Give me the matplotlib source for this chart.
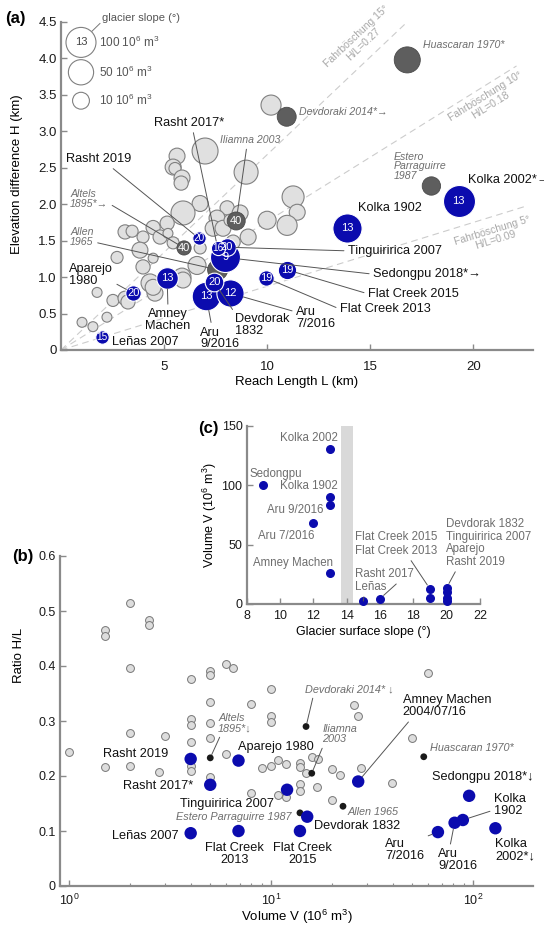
import math
import numpy as np
import matplotlib.pyplot as plt

plt.rcParams['font.family'] = ['Liberation Sans', 'DejaVu Sans']
plt.rcParams['mathtext.fontset'] = 'custom'
plt.rcParams['mathtext.rm'] = 'Liberation Sans'
plt.rcParams['mathtext.it'] = 'Liberation Sans:italic'

FIG_W, FIG_H = 544, 926
BLUE = '#0b0bae'
LIGHT = '#e0e0e0'
DARK = '#5e5e5e'
SPINE = '#8a8a8a'
GREYTXT = '#6e6e6e'

# ---------------- panel (a): reach length / elevation difference ----------------
blue_names = ['Leñas 2007', 'Aparejo 1980', 'Amney Machen', 'Rasht 2019', 'Rasht 2017',
              'Tinguiririca 2007', 'Sedongpu 2018', 'Devdorak 1832', 'Aru 9/2016', 'Aru 7/2016',
              'Flat Creek 2013', 'Flat Creek 2015', 'Kolka 1902', 'Kolka 2002']
blue_L = [2.0, 3.5, 5.15, 6.7, 7.6, 8.05, 7.96, 7.43, 7.04, 8.2, 9.95, 10.97, 13.9, 19.3]
blue_H = [0.18, 0.78, 0.99, 1.53, 1.40, 1.41, 1.27, 0.93, 0.74, 0.78, 0.99, 1.10, 1.68, 2.04]
blue_V = [4, 7, 27, 4, 5, 12, 100, 15, 83, 68, 7, 14, 90, 130]
blue_slope = [15, 20, 13, 20, 16, 20, 9, 20, 13, 12, 19, 19, 13, 13]

hist_names = ['Huascaran 1970', 'Devdoraki 2014', 'Estero Parraguirre 1987', 'Iliamna 2003',
              'Altels 1895', 'Allen 1965']
hist_L = [16.8, 10.95, 17.97, 8.5, 5.97, 7.6]
hist_H = [3.98, 3.2, 2.25, 1.77, 1.40, 1.10]
hist_V = [57, 16, 14, 13, 5, 20]
hist_slope = ['', '', '', '40', '40', '']

grey_L = [10.19, 6.99, 5.63, 5.44, 5.53, 8.98, 5.87, 5.83, 11.26, 11.46, 10.97, 10.0, 9.08, 6.75,
          5.92, 8.06, 7.57, 7.38, 7.86, 8.2, 5.15, 4.47, 3.98, 4.81, 5.19, 5.44, 3.83, 4.47, 6.6,
          3.98, 5.87, 4.32, 4.56, 4.47, 8.35, 8.69, 3.11, 3.45, 2.72, 6.75, 1.75, 2.52, 3.11, 3.25,
          2.23, 1.02, 1.55, 5.92]
grey_H = [3.36, 2.73, 2.66, 2.51, 2.49, 2.44, 2.36, 2.29, 2.10, 1.89, 1.71, 1.78, 1.55, 2.01,
          1.88, 1.95, 1.81, 1.67, 1.67, 1.78, 1.74, 1.68, 1.55, 1.55, 1.60, 1.47, 1.37, 1.26, 1.16,
          1.14, 1.0, 0.92, 0.78, 0.86, 1.48, 1.88, 1.62, 1.63, 1.27, 1.40, 0.79, 0.68, 0.71, 0.66,
          0.45, 0.38, 0.32, 0.96]
grey_V = [20, 56, 8, 8, 2.6, 41, 8, 5, 29, 8, 20, 13, 8, 8,
          41, 5, 8, 8, 8, 2.6, 5, 5, 2.6, 5, 1.2, 2.6, 8, 1.2, 13,
          5, 13, 13, 8, 8, 5, 8, 5, 2.6, 2.6, 2.6, 1.2, 2.6, 5, 5,
          1.2, 1.2, 1.2, 8]

legend_V = [100, 50, 10]
fahr_deg = [15, 10, 5]
fahr_text = ['Fahrböschung 15°\nH/L=0.27', 'Fahrböschung 10°\nH/L=0.18', 'Fahrböschung 5°\nH/L=0.09']

# ---------------- panel (b): volume / ratio H/L ----------------
b_grey_V = [1.0, 1.5, 1.5, 1.5, 2.0, 2.0, 2.0, 2.0, 2.5, 2.5, 2.98, 2.8,
            4.0, 4.0, 4.0, 4.0, 4.0, 4.0, 5.0, 5.0, 5.0, 5.0, 5.0, 5.0,
            6.0, 6.5, 6.0, 8.0, 8.0, 10, 10, 10, 10, 9.0, 10.8, 10.8, 11.9, 11.9,
            13.9, 13.9, 16.0, 17.1, 14.9, 20, 21.9, 27.9, 25.7, 27, 13.9, 13.9, 16.8, 20,
            59.9, 49.9, 39.6]
b_grey_ratio = [0.244, 0.465, 0.455, 0.216, 0.515, 0.397, 0.278, 0.218, 0.483, 0.475, 0.273, 0.207,
                0.376, 0.304, 0.292, 0.262, 0.218, 0.209, 0.391, 0.384, 0.335, 0.296, 0.269, 0.198,
                0.403, 0.397, 0.24, 0.331, 0.17, 0.358, 0.309, 0.298, 0.218, 0.215, 0.229, 0.165,
                0.222, 0.162, 0.224, 0.217, 0.235, 0.231, 0.205, 0.213, 0.202, 0.215, 0.329, 0.309,
                0.185, 0.173, 0.18, 0.156, 0.388, 0.27, 0.188]
b_blue_V = [4.0, 6.9, 27, 4.0, 5.0, 12.0, 95.6, 15.1, 81, 67, 6.9, 13.9, 89, 129]
b_blue_ratio = [0.096, 0.228, 0.19, 0.231, 0.184, 0.175, 0.164, 0.126, 0.115, 0.098,
                0.10, 0.10, 0.12, 0.105]
b_hist_V = [57, 14.9, 13.9, 15.9, 5.0, 22.7]
b_hist_ratio = [0.235, 0.29, 0.133, 0.205, 0.233, 0.145]

# ---------------- panel (c): glacier slope / volume ----------------
c_slope = [13, 9, 13, 13, 12, 13, 15, 16, 19, 19, 20, 20, 20, 20]
c_vol = [130, 100, 90, 83, 68, 26, 2.5, 4.5, 12.6, 5.3, 13.7, 9.8, 5.3, 2.5]


def px_rect(left, top, right, bottom):
    return [left / FIG_W, 1 - bottom / FIG_H, (right - left) / FIG_W, (bottom - top) / FIG_H]


def radius_pt(v):
    # circle radius grows with V^(1/4); 100e6 m3 -> 15 px
    return 15 * 0.72 * (v / 100.0) ** 0.25


def area(v):
    return (2 * radius_pt(np.asarray(v, dtype=float))) ** 2


def style(ax, size, xpad=3):
    for s in ['top', 'right']:
        ax.spines[s].set_visible(False)
    for s in ['left', 'bottom']:
        ax.spines[s].set_color(SPINE)
        ax.spines[s].set_linewidth(1.6)
    ax.tick_params(direction='in', length=4, width=1, color=SPINE, labelsize=size,
                   labelcolor='#1a1a1a', pad=3)
    ax.tick_params(axis='x', pad=xpad)
    ax.tick_params(which='minor', direction='in', length=2.5, width=0.8, color=SPINE)


fig = plt.figure(figsize=(FIG_W / 100, FIG_H / 100), dpi=100)

# ================= (a) =================
ax = fig.add_axes(px_rect(61, 22, 533, 350))
style(ax, 9.5, xpad=8)
ax.set_xlim(0, 22.9)
ax.set_ylim(0, 4.5)
ax.set_xticks([5, 10, 15, 20])
ax.set_yticks(np.arange(0, 4.51, 0.5))
ax.set_yticklabels(['0' if v == 0 else f'{v:.1f}' for v in np.arange(0, 4.51, 0.5)])
ax.set_xlabel('Reach Length L (km)', fontsize=9.5, labelpad=2)
ax.set_ylabel('Elevation difference H (km)', fontsize=9.5)
ax.yaxis.set_label_coords(-0.08, 0.535)

sx = ax.bbox.width / 22.9
sy = ax.bbox.height / 4.5
fahr_end = [16.7, 22.1, 22.6]
fahr_pos = [(14.5, 4.25), (20.7, 3.42), (21.0, 1.57)]
for deg, end, txt, pos in zip(fahr_deg, fahr_end, fahr_text, fahr_pos):
    r = math.tan(math.radians(deg))
    ax.plot([0, end], [0, end * r], ls=(0, (6, 4)), color='#cccccc', lw=0.8, zorder=1)
    ang = math.degrees(math.atan(r * sy / sx))
    ax.text(pos[0], pos[1], txt, rotation=ang, rotation_mode='anchor', ha='center', va='center',
            fontsize=7.5, color='#a8a8a8', linespacing=1.0, multialignment='center', zorder=1)

ax.scatter(grey_L, grey_H, s=area(grey_V), facecolor=LIGHT, edgecolor='#808080', lw=0.8, zorder=2)
ax.scatter(hist_L, hist_H, s=area(hist_V), facecolor=DARK, edgecolor='#4a4a4a', lw=0.6, zorder=3)
for l, h, t in zip(hist_L, hist_H, hist_slope):
    if t:
        ax.text(l, h, t, color='white', fontsize=8, ha='center', va='center', zorder=3.5)

order = list(np.argsort(blue_V)[::-1])
for k, i in enumerate(order):
    ax.scatter([blue_L[i]], [blue_H[i]], s=area([blue_V[i]]), facecolor=BLUE, edgecolor='white',
               lw=0.8, zorder=4 + 0.01 * k)
    ax.text(blue_L[i], blue_H[i], str(blue_slope[i]), color='white',
            fontsize=8 if blue_V[i] > 6 else 7.2, ha='center', va='center', zorder=5)

# legend of circle sizes
leg_y = [4.22, 3.81, 3.42]
leg_txt = ['100 10$^6$ m$^3$', '50 10$^6$ m$^3$', '10 10$^6$ m$^3$']
ax.scatter([0.97] * 3, leg_y, s=area(legend_V), facecolor='white', edgecolor='#808080', lw=0.8,
           zorder=4, clip_on=False)
ax.text(0.97, leg_y[0], '13', fontsize=8, ha='center', va='center', color='#444444', zorder=5)
for y, t in zip(leg_y, leg_txt):
    ax.text(1.85, y, t, fontsize=8.5, color='#555555', ha='left', va='center')
ax.text(1.99, 4.56, 'glacier slope (°)', fontsize=8, color='#555555', ha='left', va='center',
        clip_on=False)
ax.plot([1.89, 1.31], [4.48, 4.32], color='#777777', lw=0.7, clip_on=False)

a_labels = [
    # text, target, x, y, ha, italic, relpos
    ('Rasht 2017*', 'Rasht 2017', 6.21, 3.12, 'center', False, (0.55, 0)),
    ('Rasht 2019', 'Rasht 2019', 1.84, 2.62, 'center', False, (0.65, 0)),
    ('Iliamna 2003', 'Iliamna 2003', 9.17, 2.88, 'center', True, (0.45, 0)),
    ('Altels\n1895*→', 'Altels 1895', 0.44, 2.07, 'left', True, (1, 0.3)),
    ('Allen\n1965', 'Allen 1965', 0.44, 1.55, 'left', True, (1, 0.25)),
    ('Aparejo\n1980', 'Aparejo 1980', 0.39, 1.03, 'left', False, (0.8, 0.4)),
    ('Amney\nMachen', 'Amney Machen', 5.19, 0.41, 'center', False, (0.5, 1)),
    ('Aru\n9/2016', 'Aru 9/2016', 6.75, 0.16, 'left', False, (0.3, 1)),
    ('Devdorak\n1832', 'Devdorak 1832', 8.45, 0.34, 'left', False, (0, 1)),
    ('Aru\n7/2016', 'Aru 7/2016', 11.41, 0.44, 'left', False, (0, 0.75)),
    ('Flat Creek 2013', 'Flat Creek 2013', 13.54, 0.56, 'left', False, (0, 0.5)),
    ('Flat Creek 2015', 'Flat Creek 2015', 14.9, 0.77, 'left', False, (0, 0.5)),
    ('Sedongpu 2018*→', 'Sedongpu 2018', 15.15, 1.04, 'left', False, (0, 0.5)),
    ('Tinguiririca 2007', 'Tinguiririca 2007', 13.93, 1.36, 'left', False, (0, 0.5)),
    ('Kolka 1902', None, 15.97, 1.95, 'center', False, None),
    ('Kolka 2002*→', None, 19.76, 2.33, 'left', False, None),
    ('Huascaran 1970*', None, 17.57, 4.19, 'left', True, None),
    ('Devdoraki 2014*→', None, 11.55, 3.26, 'left', True, None),
    ('Estero\nParraguirre\n1987', None, 16.12, 2.52, 'left', True, None),
    ('Leñas 2007', None, 2.48, 0.11, 'left', False, None),
]


def target_a(name):
    if name in blue_names:
        i = blue_names.index(name)
        return blue_L[i], blue_H[i], blue_V[i]
    i = hist_names.index(name)
    return hist_L[i], hist_H[i], hist_V[i]


for txt, tgt, x, y, ha, ital, rel in a_labels:
    kw = dict(fontsize=7.6, color=GREYTXT, style='italic') if ital else dict(fontsize=9.2, color='#111111')
    if tgt is None:
        ax.text(x, y, txt, ha=ha, va='center', linespacing=0.95, clip_on=False, **kw)
    else:
        l, h, v = target_a(tgt)
        ax.annotate(txt, xy=(l, h), xytext=(x, y), ha=ha, va='center', linespacing=0.95,
                    arrowprops=dict(arrowstyle='-', color='#555555', lw=0.7, relpos=rel,
                                    shrinkA=1, shrinkB=radius_pt(v)), zorder=6, **kw)

fig.text(5 / FIG_W, 1 - 18 / FIG_H, '(a)', fontsize=12, fontweight='bold', va='center', ha='left')

# ================= (b) =================
ax = fig.add_axes(px_rect(60, 556, 533, 886))
ax.set_xscale('log')
style(ax, 9, xpad=5)
ax.set_xlim(0.902, 198)
ax.set_ylim(0, 0.6)
ax.set_yticks(np.arange(0, 0.61, 0.1))
ax.set_yticklabels(['0' if v == 0 else f'{v:.1f}' for v in np.arange(0, 0.61, 0.1)])
ax.set_xlabel('Volume V (10$^6$ m$^3$)', fontsize=9.5, labelpad=0)
ax.set_ylabel('Ratio H/L', fontsize=9.5)
ax.yaxis.set_label_coords(-0.075, 0.70)

ax.scatter(b_grey_V, b_grey_ratio, s=32, facecolor='#dddddd', edgecolor='#777777', lw=0.7, zorder=2)
ax.scatter(b_hist_V, b_hist_ratio, s=24, facecolor='#1a1a1a', edgecolor='none', zorder=3)
ax.scatter(b_blue_V, b_blue_ratio, s=80, facecolor=BLUE, edgecolor='none', zorder=4)

b_labels = [
    ('Rasht 2019', None, 3.09, 0.24, 'right', False, None),
    ('Rasht 2017*', None, 4.11, 0.182, 'right', False, None),
    ('Aparejo 1980', None, 6.86, 0.253, 'left', False, None),
    ('Altels\n1895*↓', 'Altels 1895', 5.47, 0.296, 'left', True, (0.1, 0)),
    ('Tinguiririca 2007', None, 6.06, 0.149, 'center', False, None),
    ('Estero Parraguirre 1987', None, 6.56, 0.125, 'center', True, None),
    ('Leñas 2007', None, 3.5, 0.091, 'right', False, None),
    ('Flat Creek\n2013', None, 6.56, 0.058, 'center', False, None),
    ('Flat Creek\n2015', None, 14.3, 0.058, 'center', False, None),
    ('Devdorak 1832', None, 16.3, 0.109, 'left', False, None),
    ('Allen 1965', None, 24.0, 0.135, 'left', True, None),
    ('Iliamna\n2003', 'Iliamna 2003', 17.9, 0.276, 'left', True, (0.05, 0)),
    ('Devdoraki 2014* ↓', 'Devdoraki 2014', 14.7, 0.358, 'left', True, (0.1, 0)),
    ('Amney Machen\n2004/07/16', 'Amney Machen', 44.9, 0.327, 'left', False, (0.1, 0)),
    ('Huascaran 1970*', None, 61.5, 0.251, 'left', True, None),
    ('Sedongpu 2018*↓', None, 62.3, 0.198, 'left', False, None),
    ('Kolka\n1902', 'Kolka 1902', 127, 0.147, 'left', False, (0, 0.3)),
    ('Kolka\n2002*↓', None, 128.6, 0.065, 'left', False, None),
    ('Aru\n7/2016', 'Aru 7/2016', 36.7, 0.065, 'left', False, (0.7, 0.85)),
    ('Aru\n9/2016', 'Aru 9/2016', 67.0, 0.047, 'left', False, (0.3, 1)),
]


def target_b(name):
    if name in blue_names:
        i = blue_names.index(name)
        return b_blue_V[i], b_blue_ratio[i], 4.5
    i = hist_names.index(name)
    return b_hist_V[i], b_hist_ratio[i], 2.5


for txt, tgt, x, y, ha, ital, rel in b_labels:
    kw = dict(fontsize=7.8, color=GREYTXT, style='italic') if ital else dict(fontsize=9.2, color='#111111')
    if tgt is None:
        ax.text(x, y, txt, ha=ha, va='center', linespacing=1.0, **kw)
    else:
        xv, yv, sh = target_b(tgt)
        ax.annotate(txt, xy=(xv, yv), xytext=(x, y), ha=ha, va='center', linespacing=1.0,
                    arrowprops=dict(arrowstyle='-', color='#555555', lw=0.7, relpos=rel,
                                    shrinkA=1, shrinkB=sh), zorder=6, **kw)

fig.text(12 / FIG_W, 1 - 557 / FIG_H, '(b)', fontsize=12, fontweight='bold', va='center', ha='left')

# ================= (c) =================
ax = fig.add_axes(px_rect(246.7, 425.7, 480, 604))
style(ax, 9, xpad=4)
ax.set_xlim(8, 22)
ax.set_ylim(0, 150)
ax.set_xticks(np.arange(8, 23, 2))
ax.set_yticks([0, 50, 100, 150])
ax.set_xlabel('Glacier surface slope (°)', fontsize=9, labelpad=3)
ax.set_ylabel('Volume V (10$^6$ m$^3$)', fontsize=9, labelpad=2)
ax.axvspan(13.65, 14.35, color='#d9d9d9', lw=0, zorder=1)
ax.scatter(c_slope, c_vol, s=30, color=BLUE, zorder=3, clip_on=False)

c_labels = [
    ('Kolka 2002', None, 13.5, 139.5, 'right', None),
    ('Sedongpu', None, 9.74, 109.5, 'center', None),
    ('Kolka 1902', None, 13.48, 99, 'right', None),
    ('Aru 9/2016', None, 12.6, 79, 'right', None),
    ('Aru 7/2016', None, 12.06, 57.4, 'right', None),
    ('Amney Machen', None, 13.2, 34.7, 'right', None),
    ('Flat Creek 2015', None, 14.5, 56.6, 'left', None),
    ('Flat Creek 2013', 8, 14.5, 44.8, 'left', (0.65, 0)),
    ('Rasht 2017', 7, 14.5, 25, 'left', (0.77, 0)),
    ('Leñas', 6, 14.5, 14.6, 'left', (0.3, 0)),
    ('Devdorak 1832', None, 19.94, 67, 'left', None),
    ('Tinguiririca 2007', None, 19.94, 56.5, 'left', None),
    ('Aparejo', None, 19.94, 46, 'left', None),
    ('Rasht 2019', 10, 19.94, 35.5, 'left', (0.2, 0)),
]
for txt, tgt, x, y, ha, rel in c_labels:
    if tgt is None:
        ax.text(x, y, txt, ha=ha, va='center', fontsize=8.3, color=GREYTXT, clip_on=False)
    else:
        ax.annotate(txt, xy=(c_slope[tgt], c_vol[tgt]), xytext=(x, y), ha=ha, va='center',
                    fontsize=8.3, color=GREYTXT, annotation_clip=False,
                    arrowprops=dict(arrowstyle='-', color='#555555', lw=0.7, relpos=rel,
                                    shrinkA=1, shrinkB=3.5))

fig.text(198 / FIG_W, 1 - 428 / FIG_H, '(c)', fontsize=12, fontweight='bold', va='center', ha='left')

fig.savefig('out.png', dpi=100)
